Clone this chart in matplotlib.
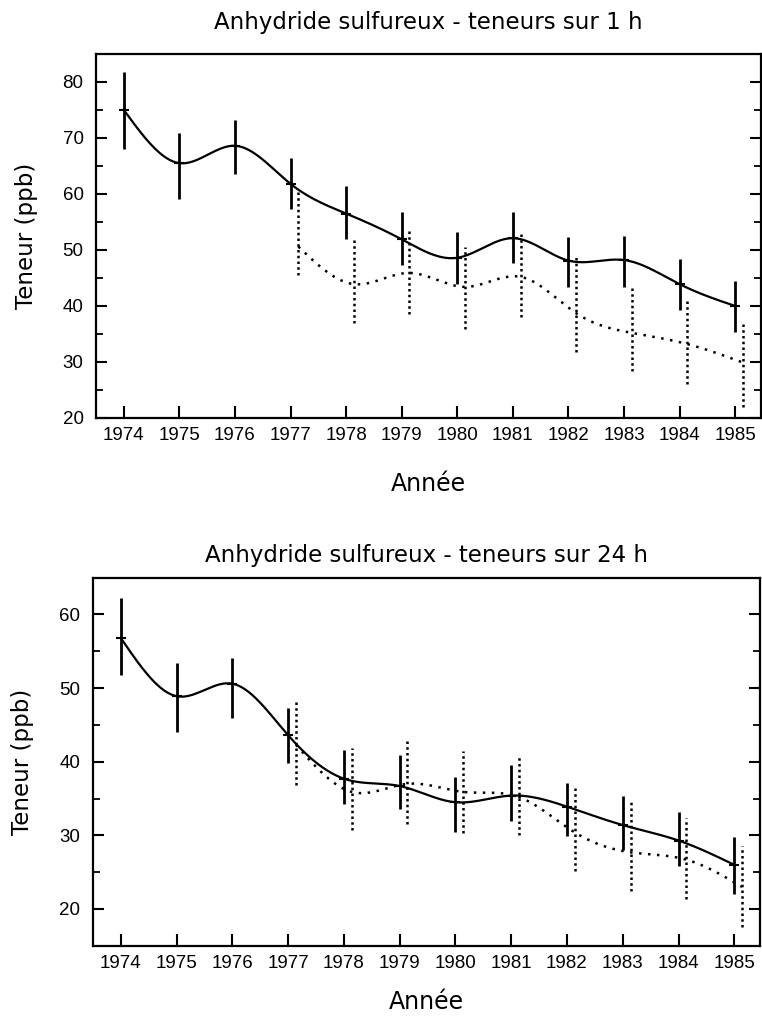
import numpy as np
import matplotlib
matplotlib.use("Agg")
import matplotlib.pyplot as plt
from matplotlib.ticker import MultipleLocator

# ---------------- data ----------------
years = [1974, 1975, 1976, 1977, 1978, 1979, 1980, 1981, 1982, 1983, 1984, 1985]
years_dot = [1977, 1978, 1979, 1980, 1981, 1982, 1983, 1984, 1985]

# 1 h
h1_mean = [75.0, 65.5, 68.6, 61.8, 56.5, 51.9, 48.6, 52.1, 48.1, 48.2, 43.9, 40.0]
h1_hi = [81.8, 70.8, 73.2, 66.5, 61.4, 56.7, 53.2, 56.8, 52.4, 52.5, 48.3, 44.5]
h1_lo = [68.0, 59.1, 63.6, 57.3, 52.0, 47.3, 43.9, 47.7, 43.3, 43.4, 39.3, 35.3]
h1_dot_mean = [50.6, 43.9, 45.9, 43.4, 45.2, 38.7, 35.2, 33.2, 29.9]
h1_dot_hi = [60.7, 51.9, 53.3, 50.6, 53.3, 48.8, 43.3, 40.9, 37.4]
h1_dot_lo = [45.5, 36.9, 38.6, 35.9, 38.0, 31.8, 28.3, 26.1, 22.0]

# 24 h
h24_mean = [56.8, 48.9, 50.6, 43.6, 37.7, 36.7, 34.5, 35.4, 33.9, 31.4, 29.3, 26.0]
h24_hi = [62.3, 53.4, 54.1, 47.3, 41.6, 40.9, 37.9, 39.5, 37.1, 35.4, 33.2, 29.8]
h24_lo = [51.8, 44.1, 45.9, 39.8, 34.2, 33.6, 30.4, 32.0, 29.9, 28.0, 25.8, 22.0]
h24_dot_mean = [42.3, 35.9, 37.0, 35.9, 35.2, 30.4, 27.7, 26.7, 23.0]
h24_dot_hi = [48.2, 41.8, 42.9, 41.5, 40.9, 36.4, 34.5, 32.3, 28.6]
h24_dot_lo = [36.8, 30.7, 31.5, 30.3, 30.0, 25.2, 22.4, 21.3, 17.5]

titles = ["Anhydride sulfureux - teneurs sur 1 h",
          "Anhydride sulfureux - teneurs sur 24 h"]
ylabel = "Teneur (ppb)"
xlabel = "Année"

DOT_SHIFT = 0.14


def natural_spline(x, y, n=400):
    x = np.asarray(x, float)
    y = np.asarray(y, float)
    m = len(x)
    h = np.diff(x)
    A = np.zeros((m, m))
    r = np.zeros(m)
    A[0, 0] = 1
    A[-1, -1] = 1
    for i in range(1, m - 1):
        A[i, i - 1] = h[i - 1]
        A[i, i] = 2 * (h[i - 1] + h[i])
        A[i, i + 1] = h[i]
        r[i] = 6 * ((y[i + 1] - y[i]) / h[i] - (y[i] - y[i - 1]) / h[i - 1])
    M = np.linalg.solve(A, r)
    xs = np.linspace(x[0], x[-1], n)
    idx = np.clip(np.searchsorted(x, xs) - 1, 0, m - 2)
    x0, x1 = x[idx], x[idx + 1]
    hh = x1 - x0
    a = (x1 - xs) / hh
    b = (xs - x0) / hh
    ys = (a * y[idx] + b * y[idx + 1]
          + ((a ** 3 - a) * M[idx] + (b ** 3 - b) * M[idx + 1]) * hh ** 2 / 6)
    return xs, ys


plt.rcParams['font.family'] = ['Liberation Sans', 'DejaVu Sans']
label_font = ['DejaVu Sans']

fig = plt.figure(figsize=(7.62, 10.17), dpi=100)
ax1 = fig.add_axes([0.126, 0.589, 0.873, 0.358])
ax2 = fig.add_axes([0.122, 0.070, 0.876, 0.362])

panels = [
    (ax1, h1_mean, h1_hi, h1_lo, h1_dot_mean, h1_dot_hi, h1_dot_lo, (20, 85), titles[0], 18, 20),
    (ax2, h24_mean, h24_hi, h24_lo, h24_dot_mean, h24_dot_hi, h24_dot_lo, (15, 65), titles[1], 11, 13),
]

for ax, mean, hi, lo, dmean, dhi, dlo, ylim, title, tpad, xpad in panels:
    # solid series
    xs, ys = natural_spline(years, mean)
    ax.plot(xs, ys, color='black', lw=1.6, solid_capstyle='round')
    ax.vlines(years, lo, hi, color='black', lw=2.0)
    ax.plot(years, mean, ls='none', marker='_', ms=7, mew=1.5, color='black')
    # dotted series
    xd = np.asarray(years_dot, float) + DOT_SHIFT
    xs2, ys2 = natural_spline(xd, dmean)
    ax.plot(xs2, ys2, color='black', lw=1.8, ls=(0, (1, 2.6)))
    ax.vlines(xd, dlo, dhi, color='black', lw=1.8, linestyles=[(0, (1, 1.3))])

    ax.set_xlim(1973.5, 1985.47)
    ax.set_ylim(*ylim)
    ax.set_xticks(years)
    ax.set_xticklabels([str(y) for y in years])
    ax.yaxis.set_major_locator(MultipleLocator(10))
    ax.yaxis.set_minor_locator(MultipleLocator(5))
    ax.tick_params(axis='y', which='major', direction='in', length=8, width=1.5,
                   left=True, right=True, labelsize=13.5, pad=9)
    ax.tick_params(axis='y', which='minor', direction='in', length=5, width=1.3,
                   left=True, right=True)
    ax.tick_params(axis='x', which='major', direction='in', length=9, width=1.5,
                   top=False, labelsize=13.5, pad=6.5)
    for s in ax.spines.values():
        s.set_linewidth(1.6)
    ax.set_title(title, fontsize=16.5, family=label_font, pad=tpad)
    ax.set_ylabel(ylabel, fontsize=16.5, family=label_font, labelpad=18)
    ax.set_xlabel(xlabel, fontsize=17, family=label_font, labelpad=xpad)

fig.savefig("out.png", dpi=100)
